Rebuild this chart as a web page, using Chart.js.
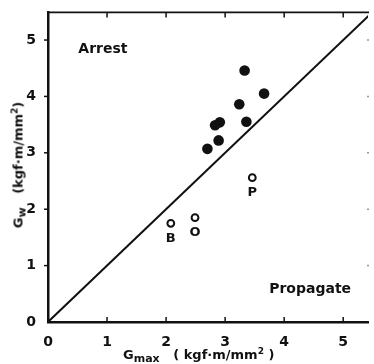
<!DOCTYPE html>
<html>
<head>
<meta charset="utf-8">
<script src="https://cdn.jsdelivr.net/npm/chart.js@4.4.1/dist/chart.umd.min.js"></script>
<style>
  html, body { margin: 0; padding: 0; background: #fff; }
  #wrap { position: relative; width: 374px; height: 364px; }
  #wrap canvas { position: absolute; left: 0; top: 0; }
  .ttl { position: absolute; font-family: "DejaVu Sans", sans-serif; font-weight: bold; font-size: 13px; color: #111; white-space: nowrap; line-height: 1; }
  .ttl sub { font-size: 11px; vertical-align: -3px; }
  .ttl sup { font-size: 9px; vertical-align: 5px; }
  #ytitle { left: 19px; top: 165px; transform: translate(-50%, -50%) rotate(-90deg); }
</style>
</head>
<body>
<div id="wrap">
  <canvas id="gwChart" width="374" height="364"></canvas>
  <div class="ttl" id="xtitle" style="left:123px; top:347px;">G<sub>max</sub>&nbsp;&nbsp;&nbsp;( kgf·m/mm<sup>2</sup> )</div>
  <div class="ttl" id="ytitle">G<sub>w</sub>&nbsp;&nbsp;&nbsp;(kgf·m/mm<sup>2</sup>)</div>
</div>
<script>
// arrested specimens (filled)
const arrestX = [3.33, 3.66, 3.24, 3.36, 2.91, 2.83, 2.89, 2.70];
const arrestY = [4.46, 4.05, 3.86, 3.55, 3.54, 3.49, 3.22, 3.07];
// propagated specimens (open) with letters
const propX = [2.08, 2.49, 3.46];
const propY = [1.75, 1.85, 2.56];
const propLabels = ['B', 'O', 'P'];
// Gw = Gmax boundary
const lineX = [0, 5.5];
const lineY = [0, 5.5];
const xTicks = [0, 1, 2, 3, 4, 5];
const yTicks = [0, 1, 2, 3, 4, 5];
const xMax = 5.42, yMax = 5.49;
const regionText = ['Arrest', 'Propagate'];
const regionX = [0.93, 4.44];
const regionY = [4.84, 0.57];

const FONT = '"DejaVu Sans", sans-serif';

const frameTicks = {
  id: 'frameTicks',
  afterDatasetsDraw(chart) {
    const { ctx, chartArea: a, scales: { x, y } } = chart;
    ctx.save();
    ctx.strokeStyle = '#111';
    ctx.lineWidth = 1.8;
    ctx.beginPath();
    ctx.moveTo(a.left, a.top);
    ctx.lineTo(a.right + 1, a.top);
    ctx.stroke();
    ctx.lineWidth = 1.5;
    xTicks.forEach(v => {
      if (v === 0) return;
      const px = x.getPixelForValue(v);
      ctx.beginPath(); ctx.moveTo(px, a.bottom); ctx.lineTo(px, a.bottom - 5); ctx.stroke();
      ctx.beginPath(); ctx.moveTo(px, a.top); ctx.lineTo(px, a.top + 5); ctx.stroke();
    });
    yTicks.forEach(v => {
      if (v === 0) return;
      const py = y.getPixelForValue(v);
      ctx.strokeStyle = '#111';
      ctx.beginPath(); ctx.moveTo(a.left, py); ctx.lineTo(a.left - 4, py); ctx.stroke();
      ctx.strokeStyle = '#999';
      ctx.beginPath(); ctx.moveTo(a.right + 1, py); ctx.lineTo(a.right - 1, py); ctx.stroke();
    });
    // letters under open circles
    ctx.fillStyle = '#111';
    ctx.font = 'bold 13px ' + FONT;
    ctx.textAlign = 'center';
    ctx.textBaseline = 'middle';
    propLabels.forEach((t, i) => {
      ctx.fillText(t, x.getPixelForValue(propX[i]), y.getPixelForValue(propY[i]) + 15);
    });
    ctx.font = 'bold 14px ' + FONT;
    regionText.forEach((t, i) => {
      ctx.fillText(t, x.getPixelForValue(regionX[i]), y.getPixelForValue(regionY[i]));
    });
    ctx.restore();
  }
};

const ctx = document.getElementById('gwChart').getContext('2d');
new Chart(ctx, {
  type: 'scatter',
  data: {
    datasets: [
      {
        type: 'line',
        data: lineX.map((v, i) => ({ x: v, y: lineY[i] })),
        borderColor: '#111',
        borderWidth: 2,
        pointRadius: 0,
        fill: false
      },
      {
        data: arrestX.map((v, i) => ({ x: v, y: arrestY[i] })),
        backgroundColor: '#111',
        borderColor: '#111',
        borderWidth: 0,
        pointRadius: 5.3
      },
      {
        data: propX.map((v, i) => ({ x: v, y: propY[i] })),
        backgroundColor: '#fff',
        borderColor: '#111',
        borderWidth: 2,
        pointRadius: 3.4
      }
    ]
  },
  options: {
    responsive: false,
    animation: false,
    layout: { padding: { top: 9, right: 1, left: 0, bottom: 0 } },
    plugins: { legend: { display: false }, tooltip: { enabled: false } },
    scales: {
      x: {
        type: 'linear', min: 0, max: xMax,
        afterBuildTicks: s => { s.ticks = xTicks.map(v => ({ value: v })); },
        afterFit: s => { s.height = 42; },
        grid: { display: false },
        border: { display: true, color: '#111', width: 2.5 },
        ticks: { color: '#111', padding: 4, font: { family: FONT, weight: 'bold', size: 14 } }
      },
      y: {
        type: 'linear', min: 0, max: yMax,
        afterBuildTicks: s => { s.ticks = yTicks.map(v => ({ value: v })); },
        afterFit: s => { s.width = 48; },
        grid: { display: false },
        border: { display: true, color: '#111', width: 2.5 },
        ticks: { color: '#111', padding: 4, font: { family: FONT, weight: 'bold', size: 14 } }
      }
    }
  },
  plugins: [frameTicks]
});
</script>
</body>
</html>
